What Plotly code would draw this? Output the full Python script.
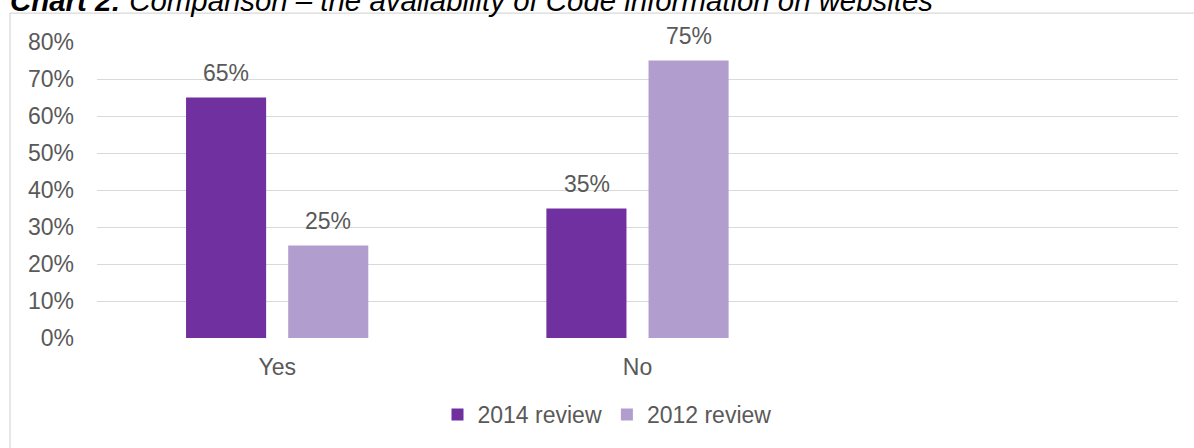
import plotly.graph_objects as go

# Survey answers and share of websites per review
categories = ["Yes", "No"]
review_2014 = [0.65, 0.35]
review_2012 = [0.25, 0.75]
series_names = ["2014 review", "2012 review"]
y_ticks = [0, 0.1, 0.2, 0.3, 0.4, 0.5, 0.6, 0.7, 0.8]

DARK = "#7030A0"
LIGHT = "#B19ECE"
TEXT = "#595959"
GRID = "#D9D9D9"
FONT = "Liberation Sans, Arial, sans-serif"

W, H = 1194, 448
L, R, T, B = 97, 16, 42, 108
plot_w = W - L - R
plot_h = H - T - B


def px_x(px):
    return (px - L) / plot_w


def px_y(py):
    return (H - B - py) / plot_h


fig = go.Figure()
for name, vals, color in [(series_names[0], review_2014, DARK),
                          (series_names[1], review_2012, LIGHT)]:
    fig.add_trace(go.Bar(
        x=categories, y=vals, name=name,
        marker=dict(color=color, line=dict(width=0)),
        hoverinfo="skip",
    ))

# value labels above each bar
for vals, shift in [(review_2014, -51), (review_2012, 51)]:
    for cat, v in zip(categories, vals):
        fig.add_annotation(
            x=cat, y=v, xref="x", yref="y",
            text=f"{v:.0%}", showarrow=False,
            xshift=shift, yshift=10, yanchor="bottom",
            font=dict(family=FONT, size=23, color=TEXT),
        )

# heading, partly above the visible page
fig.add_annotation(
    xref="paper", yref="paper", x=px_x(8), y=px_y(0.5),
    xanchor="left", yanchor="middle", showarrow=False,
    text="<b><i>Chart 2:</i></b><i> Comparison – the availability of Code information on websites</i>",
    font=dict(family=FONT, size=29.4, color="#000000"),
)

# chart-area frame
fig.add_shape(
    type="rect", xref="paper", yref="paper",
    x0=px_x(10), y0=px_y(13), x1=px_x(1210), y1=px_y(470),
    line=dict(color=GRID, width=1.3), fillcolor="rgba(0,0,0,0)", layer="below",
)

fig.update_layout(
    width=W, height=H,
    margin=dict(l=L, r=R, t=T, b=B, pad=0),
    paper_bgcolor="white", plot_bgcolor="white",
    barmode="group", bargap=0.433, bargroupgap=0.216,
    font=dict(family=FONT, size=23, color=TEXT),
    showlegend=True,
    legend=dict(
        orientation="h", x=px_x(607), y=px_y(417),
        xanchor="center", yanchor="middle",
        font=dict(family=FONT, size=23, color=TEXT),
        itemwidth=30, bgcolor="rgba(0,0,0,0)",
    ),
    xaxis=dict(
        type="category", categoryorder="array", categoryarray=categories,
        range=[-0.5, 2.5], showgrid=False, zeroline=False,
        showline=False, ticks="", ticklabelstandoff=13,
        tickfont=dict(family=FONT, size=23, color=TEXT), fixedrange=True,
    ),
    yaxis=dict(
        range=[0, 0.8], tickvals=y_ticks, tickformat=".0%",
        showgrid=True, gridcolor=GRID, gridwidth=1.3,
        zeroline=False, showline=False, ticks="", ticklabelstandoff=22,
        tickfont=dict(family=FONT, size=23, color=TEXT), fixedrange=True,
    ),
)

fig.write_html("out.html", config={"displayModeBar": False})
